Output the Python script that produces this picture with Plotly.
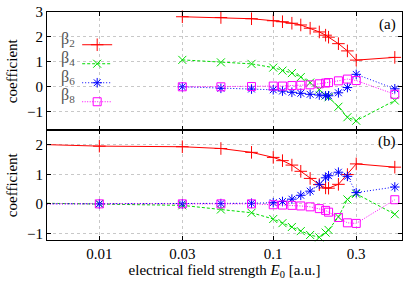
import plotly.graph_objects as go
from plotly.subplots import make_subplots

# ---- data ----
E_top = [0.03, 0.05, 0.075, 0.1, 0.113, 0.128, 0.144, 0.163, 0.184, 0.2, 0.208, 0.237, 0.267, 0.3, 0.5]
b2_top = [2.81, 2.78, 2.73, 2.65, 2.61, 2.55, 2.48, 2.35, 2.2, 2.07, 1.99, 1.73, 1.44, 1.07, 1.18]
b4_top = [1.08, 0.98, 0.92, 0.77, 0.65, 0.55, 0.39, 0.17, -0.11, -0.35, -0.42, -0.8, -1.22, -1.36, -0.55]
b6_top = [0.0, -0.06, -0.09, -0.12, -0.17, -0.22, -0.26, -0.3, -0.33, -0.36, -0.36, -0.24, -0.03, 0.5, -0.08]
b8_top = [0.0, 0.0, 0.01, 0.03, 0.03, 0.05, 0.06, 0.08, 0.12, 0.15, 0.17, 0.24, 0.31, 0.25, -0.3]

E_bot = [0.005, 0.01, 0.03, 0.05, 0.075, 0.1, 0.113, 0.128, 0.144, 0.163, 0.184, 0.2, 0.208, 0.237, 0.267, 0.3, 0.5]
b2_bot = [2.0, 1.95, 1.93, 1.87, 1.74, 1.57, 1.46, 1.31, 1.1, 0.86, 0.65, 0.54, 0.53, 0.66, 0.99, 1.35, 1.24]
b4_bot = [0.02, 0.0, -0.05, -0.19, -0.3, -0.51, -0.65, -0.78, -0.92, -1.05, -1.13, -0.97, -0.88, -0.44, 0.15, 0.34, -0.35]
b6_bot = [0.0, 0.0, 0.0, 0.01, 0.02, 0.04, 0.08, 0.16, 0.29, 0.43, 0.66, 0.88, 0.95, 1.07, 0.93, 0.38, 0.57]
b8_bot = [0.0, 0.0, 0.0, 0.0, 0.0, -0.03, -0.04, -0.05, -0.07, -0.1, -0.16, -0.22, -0.28, -0.46, -0.64, -0.66, 0.14]

series_labels = ["β<sub>2</sub>", "β<sub>4</sub>", "β<sub>6</sub>", "β<sub>8</sub>"]
x_tickvals = [0.01, 0.03, 0.1, 0.3]
x_ticktext = ["0.01", "0.03", "0.1", "0.3"]
top_yticks = [-1, 0, 1, 2, 3]
bot_yticks = [-1, 0, 1, 2]

colors = ["#ff0000", "#00dd00", "#0000ff", "#ff00ff"]
dashes = ["solid", "3px,2px", "1px,2px", "1px,1.5px"]
symbols = ["cross-thin-open", "x-thin-open", "asterisk-open", "square-open"]
sizes = [9, 8, 8, 8]

FONT = "Liberation Serif, Times New Roman, DejaVu Serif, serif"

fig = make_subplots(rows=2, cols=1, shared_xaxes=True, vertical_spacing=0,
                    row_heights=[120, 111])

tops = [b2_top, b4_top, b6_top, b8_top]
bots = [b2_bot, b4_bot, b6_bot, b8_bot]
for i in range(4):
    mk = dict(symbol=symbols[i], size=sizes[i], color=colors[i],
              line=dict(color=colors[i], width=1))
    ln = dict(color=colors[i], width=1, dash=dashes[i])
    fig.add_trace(go.Scatter(x=E_top, y=tops[i], mode="lines+markers", name=" ",
                             marker=mk, line=ln, showlegend=True, cliponaxis=False),
                  row=1, col=1)
    fig.add_trace(go.Scatter(x=E_bot, y=bots[i], mode="lines+markers", name=" ",
                             marker=mk, line=ln, showlegend=False, cliponaxis=False),
                  row=2, col=1)

xcommon = dict(type="log", range=[-2.301, -0.2596], tickvals=x_tickvals, ticktext=x_ticktext,
               showgrid=True, gridcolor="#c8c8c8", griddash="dot", gridwidth=1,
               showline=True, linecolor="black", linewidth=1, mirror="ticks",
               ticks="inside", ticklen=4, tickcolor="black", zeroline=False,
               tickfont=dict(family=FONT, size=15, color="black"))
fig.update_xaxes(**xcommon)
fig.update_xaxes(showticklabels=False, row=1, col=1)
fig.update_xaxes(title=dict(text="electrical field strength <i>E</i><sub>0</sub> [a.u.]",
                            font=dict(family=FONT, size=15, color="black"), standoff=3),
                 row=2, col=1)

ycommon = dict(showgrid=True, gridcolor="#c8c8c8", griddash="dot", gridwidth=1,
               showline=True, linecolor="black", linewidth=1, mirror="ticks",
               ticks="inside", ticklen=4, tickcolor="black", zeroline=False,
               tickfont=dict(family=FONT, size=15, color="black"),
               title=dict(text="coefficient", font=dict(family=FONT, size=15, color="black"),
                          standoff=5))
fig.update_yaxes(**ycommon)
fig.update_yaxes(range=[-1.75, 3], tickvals=top_yticks, row=1, col=1)
fig.update_yaxes(range=[-1.22, 2.48], tickvals=bot_yticks, row=2, col=1)

annotations = [
    dict(text="(a)", x=0.99, y=0.99, xref="paper", yref="paper", xanchor="right",
         yanchor="top", showarrow=False, font=dict(family=FONT, size=15, color="black")),
    dict(text="(b)", x=0.99, y=0.48, xref="paper", yref="paper", xanchor="right",
         yanchor="top", showarrow=False, font=dict(family=FONT, size=15, color="black")),
]
leg_top = 0.92
step = 19 / 231
for i, lab in enumerate(series_labels):
    annotations.append(dict(text=lab, x=0.085, y=leg_top - (i + 0.5) * step, xref="paper",
                            yref="paper", xanchor="right", yanchor="middle", showarrow=False,
                            font=dict(family=FONT, size=16, color="#555")))
fig.update_layout(
    width=407, height=285,
    margin=dict(l=47, r=4, t=9, b=45),
    paper_bgcolor="white", plot_bgcolor="white",
    font=dict(family=FONT),
    showlegend=True,
    legend=dict(x=0.085, y=leg_top, xanchor="left", yanchor="top",
                bgcolor="rgba(0,0,0,0)", borderwidth=0, itemwidth=30,
                font=dict(family=FONT, size=10), tracegroupgap=0),
    annotations=annotations,
)

fig.write_html("out.html", config={"displayModeBar": False},
               post_script="document.body.style.margin='0';document.body.style.overflow='hidden';")
